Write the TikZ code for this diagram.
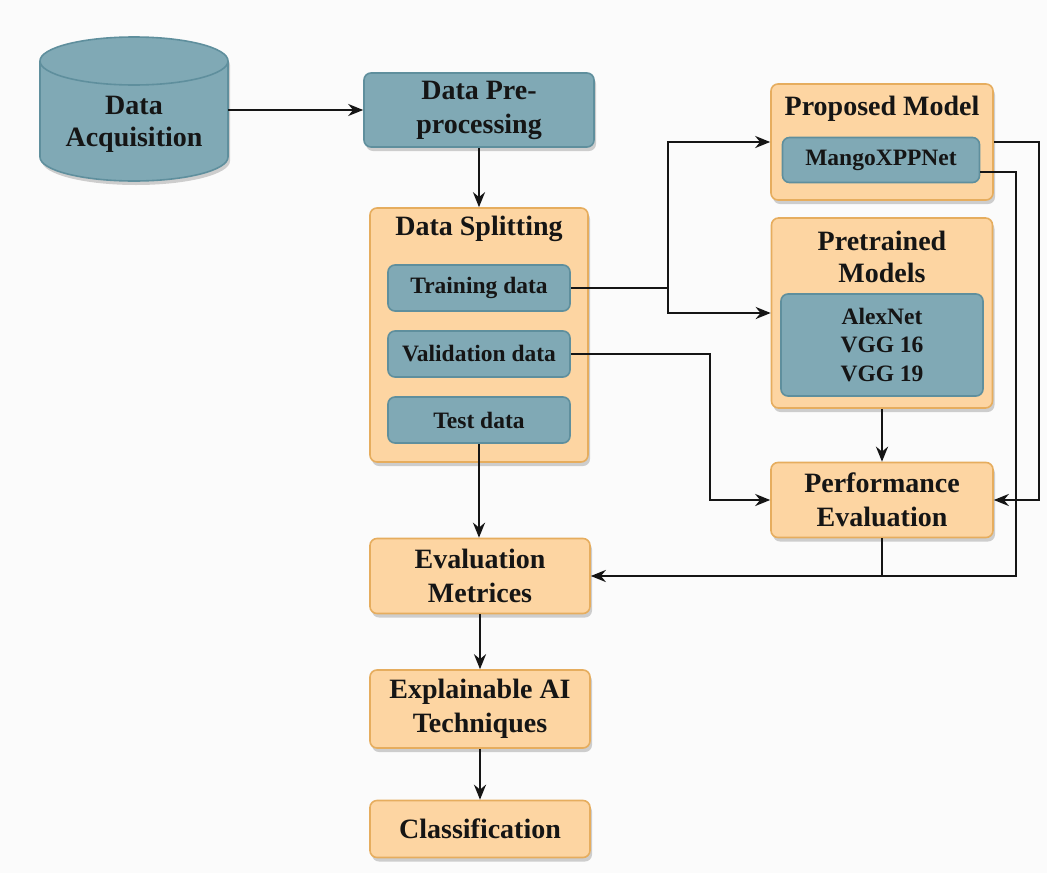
\documentclass[tikz,border=0pt]{standalone}
\usepackage{fontspec}
\setmainfont{Liberation Serif}[BoldFont={Liberation Serif Bold}]
\usetikzlibrary{arrows.meta,shadows}
\definecolor{bgc}{HTML}{FBFBFB}
\definecolor{orfill}{HTML}{FDD5A2}
\definecolor{ordraw}{HTML}{E6AD5E}
\definecolor{tlfill}{HTML}{80A9B5}
\definecolor{tldraw}{HTML}{5F8F9D}
\definecolor{ink}{HTML}{151515}
\begin{document}
\begin{tikzpicture}[x=1pt,y=-1pt,
  shd/.style={drop shadow={shadow xshift=2pt,shadow yshift=-4pt,opacity=0.18,fill=black}},
  box/.style={rectangle, rounded corners=7pt, draw=ordraw, fill=orfill, line width=1.6pt, shd, inner sep=0pt, text=ink, font=\fontsize{28}{34}\selectfont\bfseries, align=center},
  tbox/.style={box, draw=tldraw, fill=tlfill},
  sub/.style={rectangle, rounded corners=7pt, draw=tldraw, fill=tlfill, line width=1.6pt, inner sep=0pt, text=ink, font=\fontsize{23.5}{28}\selectfont\bfseries, align=center},
  ttl/.style={text=ink, font=\fontsize{28}{32}\selectfont\bfseries, align=center, inner sep=0pt},
  arr/.style={draw=ink, line width=2.6pt, -{Stealth[length=15pt,width=12pt]}},
  ln/.style={draw=ink, line width=2.6pt},
]
\fill[bgc] (0,0) rectangle (1047,873);
\useasboundingbox (0,0) rectangle (1047,873);

% cylinder
\path[fill=tlfill, draw=tldraw, line width=1.6pt, shd]
  (40,61) -- (40,157) arc[start angle=180,end angle=360,x radius=94pt,y radius=24pt]
  -- (228,61) arc[start angle=0,end angle=180,x radius=94pt,y radius=24pt] -- cycle;
\draw[tldraw, line width=1.6pt] (40,61) arc[start angle=180,end angle=360,x radius=94pt,y radius=24pt];
\node[ttl, minimum width=188pt] (acq) at (134,124) {Data\\Acquisition};

\node[tbox, minimum width=230pt, minimum height=74pt] (preproc) at (479,110) {Data Pre-\\processing};

% data splitting
\node[box, minimum width=218pt, minimum height=254pt] (split) at (479,335) {};
\node[ttl] (splitttl) at (479,229) {Data Splitting};
\node[sub, minimum width=182pt, minimum height=46pt] (train) at (479,288) {Training data};
\node[sub, minimum width=182pt, minimum height=46pt] (val) at (479,354) {Validation data};
\node[sub, minimum width=182pt, minimum height=46pt] (test) at (479,420) {Test data};

% proposed model
\node[box, minimum width=222pt, minimum height=116pt] (prop) at (882,142) {};
\node[ttl] (propttl) at (882,109) {Proposed Model};
\node[sub, minimum width=197pt, minimum height=45pt] (mango) at (881,160) {MangoXPPNet};

% pretrained
\node[box, minimum width=221pt, minimum height=190pt] (pretr) at (882,313) {};
\node[ttl] (pretrttl) at (882,257) {Pretrained\\Models};
\node[sub, minimum width=202pt, minimum height=102pt, font=\fontsize{23.5}{28.5}\selectfont\bfseries] (nets) at (882,345) {AlexNet\\VGG 16\\VGG 19};

\node[box, minimum width=222pt, minimum height=75pt] (perf) at (882,500) {Performance\\Evaluation};
\node[box, minimum width=220pt, minimum height=75pt] (evalm) at (480,576) {Evaluation\\Metrices};
\node[box, minimum width=220pt, minimum height=78pt] (xai) at (480,709) {Explainable AI\\Techniques};
\node[box, minimum width=220pt, minimum height=57pt] (cls) at (480,829) {Classification};

% connectors
\draw[arr] (preproc.west -| acq.east) -- (preproc.west);
\draw[arr] (preproc.south) -- (split.north);
\coordinate (tj) at (668,288);
\draw[ln] (train.east) -- (tj);
\draw[arr] (tj) |- (prop.west);
\draw[arr] (tj) |- (pretr.west);
\coordinate (vx) at (710,354);
\draw[arr] (val.east) -- (vx) |- (perf.west);
\draw[arr] (pretr.south) -- (perf.north);
\draw[arr] (test.south) -- (test.south |- evalm.north);
\draw[ln] (perf.south) -- (perf.south |- evalm.east);
\coordinate (mx) at (1016,172);
\draw[arr] (mango.east |- mx) -- (mx) |- (evalm.east);
\coordinate (px) at (1039,142);
\draw[arr] (prop.east) -- (px) |- (perf.east);
\draw[arr] (evalm.south) -- (xai.north);
\draw[arr] (xai.south) -- (cls.north);
\end{tikzpicture}
\end{document}
